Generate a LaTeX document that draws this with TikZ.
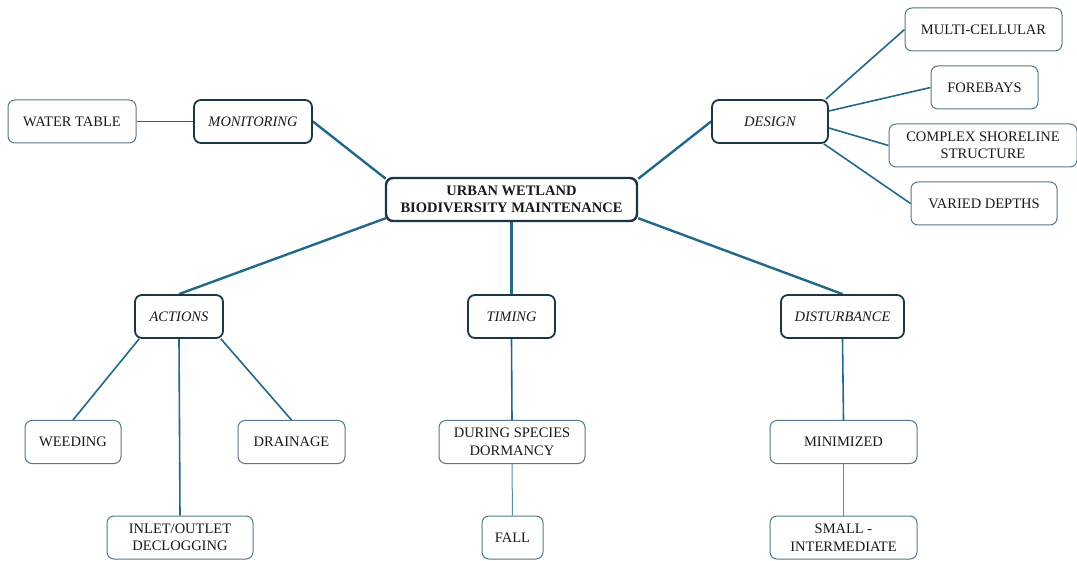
\documentclass[tikz,border=0pt]{standalone}
\usepackage{fontspec}
\setmainfont{Liberation Serif}
\newfontfamily\mapfont{Liberation Serif}
\usetikzlibrary{backgrounds}
\definecolor{linkblue}{HTML}{22688A}
\definecolor{boxdark}{HTML}{1B3645}
\definecolor{boxgrey}{HTML}{56788A}
\begin{document}
\begin{tikzpicture}[x=1pt,y=-1pt,
  every node/.style={font=\mapfont\fontsize{14.5}{17.5}\selectfont, text=black!90, align=center, fill=white, rounded corners=7pt, inner sep=2pt},
  hub/.style={draw=boxdark, line width=2.4pt, font=\mapfont\fontsize{14.5}{17.5}\selectfont\bfseries, minimum height=43pt},
  topic/.style={draw=boxdark, line width=1.8pt, font=\mapfont\fontsize{14.5}{17.5}\selectfont\itshape, minimum height=43pt},
  leaf/.style={draw=boxgrey, line width=1pt, minimum height=43pt},
  mainlink/.style={draw=linkblue, line width=2.4pt},
  sublink/.style={draw=linkblue, line width=1.6pt},
  leaflink/.style={draw=linkblue!75, line width=1pt}]
 \useasboundingbox (0,0) rectangle (1077,561);
 \node[hub, minimum width=251pt] (ctr) at (511.5,199.5) {URBAN WETLAND\\BIODIVERSITY MAINTENANCE};
 \node[topic, minimum width=118pt] (mon) at (253,121.5) {MONITORING};
 \node[topic, minimum width=116pt] (des) at (770,121.5) {DESIGN};
 \node[topic, minimum width=88pt] (act) at (179,316.5) {ACTIONS};
 \node[topic, minimum width=87pt] (tim) at (511.5,316.5) {TIMING};
 \node[topic, minimum width=123pt] (dis) at (842.5,316.5) {DISTURBANCE};
 \node[leaf, minimum width=128pt] (wat) at (72,121.5) {WATER TABLE};
 \node[leaf, minimum width=157pt] (multi) at (983.5,29.5) {MULTI-CELLULAR};
 \node[leaf, minimum width=107pt] (fore) at (984.5,87.5) {FOREBAYS};
 \node[leaf, minimum width=188pt] (shore) at (983,145.5) {COMPLEX SHORELINE\\STRUCTURE};
 \node[leaf, minimum width=146pt] (depth) at (984,203.5) {VARIED DEPTHS};
 \node[leaf, minimum width=96pt] (weed) at (73,442) {WEEDING};
 \node[leaf, minimum width=107pt] (drain) at (291.5,442) {DRAINAGE};
 \node[leaf, minimum width=146pt] (inlet) at (180,537.5) {INLET/OUTLET\\DECLOGGING};
 \node[leaf, minimum width=146pt] (dorm) at (512,442) {DURING SPECIES\\DORMANCY};
 \node[leaf, minimum width=61pt] (fall) at (512.5,537.5) {FALL};
 \node[leaf, minimum width=147pt] (mini) at (843.5,442) {MINIMIZED};
 \node[leaf, minimum width=147pt] (small) at (843.5,537.5) {SMALL -\\INTERMEDIATE};
 \begin{pgfonlayer}{background}
 \draw[mainlink] ([xshift=1pt,yshift=-2pt]ctr.north west) -- (mon.east);
 \draw[mainlink] ([yshift=-2pt]ctr.north east) -- (des.west);
 \draw[mainlink] ([xshift=1pt,yshift=4pt]ctr.south west) -- (act.north);
 \draw[mainlink] (ctr.south) -- (tim.north);
 \draw[mainlink] ([yshift=4pt]ctr.south east) -- (dis.north);
 \draw[sublink] (wat.east) -- (mon.west);
 \draw[sublink] ([xshift=-3pt]des.north east) -- (multi.west);
 \draw[sublink] ([yshift=10.5pt]des.east) -- (fore.west);
 \draw[sublink] ([yshift=-6.5pt]des.east) -- (shore.west);
 \draw[sublink] ([xshift=-5pt]des.south east) -- (depth.west);
 \draw[sublink] ([xshift=5pt]act.south west) -- (weed.north);
 \draw[sublink] (act.south) -- (inlet.north);
 \draw[sublink] ([xshift=-3pt]act.south east) -- (drain.north);
 \draw[sublink] (tim.south) -- (dorm.north);
 \draw[leaflink] (dorm.south) -- (fall.north);
 \draw[sublink] (dis.south) -- (mini.north);
 \draw[leaflink] (mini.south) -- (small.north);
 \end{pgfonlayer}
\end{tikzpicture}
\end{document}
